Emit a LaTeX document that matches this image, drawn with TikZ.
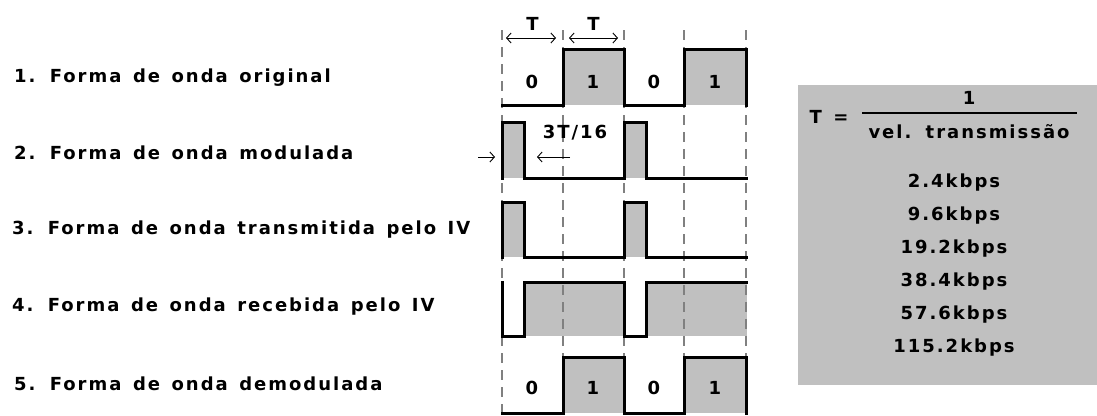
\documentclass[tikz,border=0pt]{standalone}
\usepackage{fontspec}
\setmainfont{DejaVu Sans}[BoldFont={DejaVu Sans Bold}, LetterSpace=11, WordSpace=1.4]
\usepackage{xcolor}
\usetikzlibrary{arrows.meta}
\definecolor{sigfill}{RGB}{192,192,192}
\definecolor{gridgray}{RGB}{128,128,128}

\begin{document}
\begin{tikzpicture}[x=1pt, y=-1pt, every node/.style={font=\fontsize{18}{20}\selectfont\bfseries, inner sep=0pt},
  wave/.style={line width=3pt, line join=miter, line cap=rect},
  gridline/.style={gridgray, line width=2.4pt, dash pattern=on 10pt off 7pt},
  barb/.style={line width=0.9pt, -{Straight Barb[length=4.5pt, width=10pt]}},
  span/.style={line width=0.9pt, {Straight Barb[length=4.5pt, width=10pt]}-{Straight Barb[length=4.5pt, width=10pt]}},
  lab/.style={anchor=west}]
  \useasboundingbox (0,0) rectangle (1097,415);
  % labels of the five waveforms
  \node[lab] (l1) at (14,78)  {1. Forma de onda original};
  \node[lab] (l2) at (14,153) {2. Forma de onda modulada};
  \node[lab] (l3) at (12,230) {3. Forma de onda transmitida pelo IV};
  \node[lab] (l4) at (12,307) {4. Forma de onda recebida pelo IV};
  \node[lab] (l5) at (14,384) {5. Forma de onda demodulada};
  % gray fills
  \foreach \ya/\yb in {49/105, 357/413} {
    \fill[sigfill] (563,\ya) rectangle (624,\yb);
    \fill[sigfill] (684,\ya) rectangle (746,\yb);
  }
  \foreach \ya/\yb in {122/178, 202/257} {
    \fill[sigfill] (502,\ya) rectangle (524,\yb);
    \fill[sigfill] (624,\ya) rectangle (646,\yb);
  }
  \fill[sigfill] (524,282) rectangle (624,336);
  \fill[sigfill] (646,282) rectangle (747,336);
  % bit period grid
  \foreach \x [count=\i from 0] in {502,563,624,684,746} {
    \draw[gridline] (\x,30) -- (\x,415);
    \coordinate (g\i) at (\x,38);
  }
  % waveforms
  \foreach \ya/\yb in {49/105, 357/413}
    \draw[wave] (502,\yb) -- (563,\yb) -- (563,\ya) -- (624,\ya) -- (624,\yb) -- (684,\yb) -- (684,\ya) -- (746,\ya) -- (746,\yb);
  \foreach \ya/\yb in {122/178, 202/257}
    \draw[wave] (502,\yb) -- (502,\ya) -- (524,\ya) -- (524,\yb) -- (624,\yb) -- (624,\ya) -- (646,\ya) -- (646,\yb) -- (746,\yb);
  \draw[wave] (502,282) -- (502,336) -- (524,336) -- (524,282) -- (624,282) -- (624,336) -- (646,336) -- (646,282) -- (746,282);
  % bit values
  \foreach \y in {82,388}
    \foreach \x/\b in {532/0, 593/1, 654/0, 715/1}
      \node at (\x,\y) {\b};
  % bit period T
  \draw[span, shorten <=4pt, shorten >=7pt] (g0) -- (g1) node[midway, above=7pt] {T};
  \draw[span, shorten <=6pt, shorten >=6pt] (g1) -- (g2) node[midway, above=7pt] {T};
  % pulse width 3T/16
  \coordinate (p0) at (478,157);
  \coordinate (p1) at (495,157);
  \coordinate (p2) at (570,157);
  \coordinate (p3) at (537,157);
  \draw[barb] (p0) -- (p1);
  \draw[barb] (p2) -- (p3);
  \node (pw) at (575,133) {3T/16};
  % speed table
  \fill[sigfill] (798,85) rectangle (1097,385);
  \node (teq) at (829,117) {T =};
  \node (num) at (969,98) {1};
  \node (den) at (969,132) {vel. transmissão};
  \draw[line width=1.4pt] (862,113) -- (1077,113);
  \foreach \r [count=\i] in {2.4kbps, 9.6kbps, 19.2kbps, 38.4kbps, 57.6kbps, 115.2kbps}
    \node (r\i) at (954,150+33*\i) {\r};
\end{tikzpicture}
\end{document}
